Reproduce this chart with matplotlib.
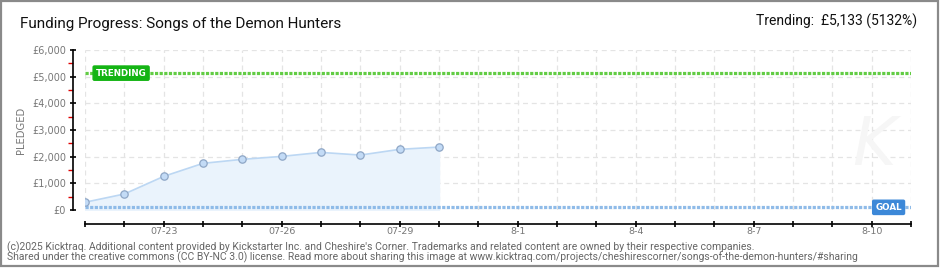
import matplotlib
matplotlib.use("Agg")
import matplotlib.pyplot as plt
import matplotlib.dates as mdates
import matplotlib.transforms as mtransforms
from matplotlib.patches import Rectangle
from matplotlib.ticker import MultipleLocator, FuncFormatter
import pandas as pd

# ---- data ----
dates = pd.to_datetime(['2025-07-21', '2025-07-22', '2025-07-23', '2025-07-24', '2025-07-25',
                        '2025-07-26', '2025-07-27', '2025-07-28', '2025-07-29', '2025-07-30'])
pledged = [290, 600, 1260, 1750, 1900, 2010, 2160, 2060, 2275, 2360]
goal = 100
trending = 5133
trending_pct = 5132
xlim_dates = pd.to_datetime(['2025-07-21', '2025-08-11'])
xtick_dates = pd.to_datetime(['2025-07-23', '2025-07-26', '2025-07-29', '2025-08-01',
                              '2025-08-04', '2025-08-07', '2025-08-10'])
xtick_labels = ['07-23', '07-26', '07-29', '8-1', '8-4', '8-7', '8-10']
title = 'Funding Progress: Songs of the Demon Hunters'
footer1 = ("(c)2025 Kicktraq. Additional content provided by Kickstarter Inc. and Cheshire's Corner. "
           "Trademarks and related content are owned by their respective companies.")
footer2 = ("Shared under the creative commons (CC BY-NC 3.0) license. Read more about sharing this image at "
           "www.kicktraq.com/projects/cheshirescorner/songs-of-the-demon-hunters/#sharing")

W, H = 940, 270
fig = plt.figure(figsize=(W / 100, H / 100), dpi=100)
fig.patch.set_facecolor('white')
FONT = 'Roboto'

def fx(px):
    return px / W

def fy(py):
    return 1 - py / H

ax = fig.add_axes([fx(85), fy(210), fx(911) - fx(85), fy(50) - fy(210)])
ax.set_facecolor('white')

# grid
ax.set_xlim(xlim_dates[0], xlim_dates[1])
ax.set_ylim(0, 6000)
ax.xaxis.set_major_locator(mdates.DayLocator())
ax.yaxis.set_major_locator(MultipleLocator(1000))
ax.yaxis.set_minor_locator(MultipleLocator(500))
ax.grid(True, which='major', color='#e4e4e4', linestyle=(0, (4, 3)), linewidth=0.9)
ax.set_axisbelow(True)

# watermark
ax.text(0.955, 0.4, 'K', transform=ax.transAxes, fontsize=48, color='#f6f6f6',
        style='italic', ha='center', va='center', family='DejaVu Sans', zorder=1)

# area + line + markers
ax.fill_between(dates, pledged, 0, color='#eaf3fc', zorder=2)
ax.plot(dates, pledged, color='#bcd7f3', linewidth=1.2, zorder=3)
ax.plot(dates, pledged, linestyle='none', marker='o', markersize=5.3,
        markerfacecolor='#c3dbf6', markeredgecolor='#8ea6c6', markeredgewidth=0.9, zorder=5)

# goal and trending lines
ax.axhline(goal, color='#8fbbe8', linewidth=2.3, linestyle=(0, (1.0, 0.45)), zorder=4)
ax.axhline(trending, color='#62cc44', linewidth=2.3, linestyle=(0, (1.0, 0.45)), zorder=4)

trans = mtransforms.blended_transform_factory(ax.transAxes, ax.transData)
ax.text(0.013, trending, 'TRENDING', transform=trans, ha='left', va='center',
        fontsize=6.3, color='white', fontweight='bold', family='DejaVu Sans',
        bbox=dict(boxstyle='round,pad=0.3,rounding_size=0.15', facecolor='#14b414', edgecolor='#14b414'),
        zorder=6)
ax.text(0.989, goal, 'GOAL', transform=trans, ha='right', va='center',
        fontsize=6.3, color='white', fontweight='bold', family='DejaVu Sans',
        bbox=dict(boxstyle='round,pad=0.3,rounding_size=0.15', facecolor='#3c88d8', edgecolor='#3c88d8'),
        zorder=6)

# spines
for s in ['top', 'right']:
    ax.spines[s].set_visible(False)
ax.spines['bottom'].set_position(('outward', 10))
ax.spines['left'].set_position(('outward', 9))
ax.spines['bottom'].set_linewidth(1.2)
ax.spines['left'].set_linewidth(1.2)

label_map = {d.strftime('%Y-%m-%d'): l for d, l in zip(xtick_dates, xtick_labels)}

def xfmt(v, pos):
    d = mdates.num2date(v).strftime('%Y-%m-%d')
    return label_map.get(d, '')

ax.xaxis.set_major_formatter(FuncFormatter(xfmt))
ax.tick_params(axis='x', which='major', direction='inout', length=5, width=1.2,
               labelsize=6.8, labelcolor='#777777', pad=0)
ax.tick_params(axis='y', which='major', direction='inout', length=5, width=1.2,
               labelsize=7, labelcolor='#777777', pad=2)
ax.tick_params(axis='y', which='minor', direction='out', length=3.5, width=1, color='#e00000')
ax.yaxis.set_major_formatter(FuncFormatter(lambda v, p: '£{:,.0f}'.format(v)))
for lab in ax.get_xticklabels() + ax.get_yticklabels():
    lab.set_family('DejaVu Sans')

fig.text(fx(21), fy(130), 'PLEDGED', rotation=90, ha='center', va='center',
         fontsize=7.2, color='#777777', family='DejaVu Sans')

# title and trending text
fig.text(fx(20), fy(24), title, ha='left', va='center', fontsize=11, color='#111111', family=FONT)
fig.text(fx(917), fy(21), 'Trending:  £{:,} ({}%)'.format(trending, trending_pct),
         ha='right', va='center', fontsize=10.0, color='#111111', family=FONT)

# footer
fig.text(fx(7), fy(247), footer1, ha='left', va='center', fontsize=7.5, color='#666666', family=FONT)
fig.text(fx(7), fy(257.5), footer2, ha='left', va='center', fontsize=7.5, color='#666666', family=FONT)

# border
fig.patches.append(Rectangle((0.001, 0.014), 0.997, 0.983, transform=fig.transFigure,
                             fill=False, edgecolor='#8a8a8a', linewidth=1.6))

fig.savefig('out.png', dpi=100, facecolor='white')
